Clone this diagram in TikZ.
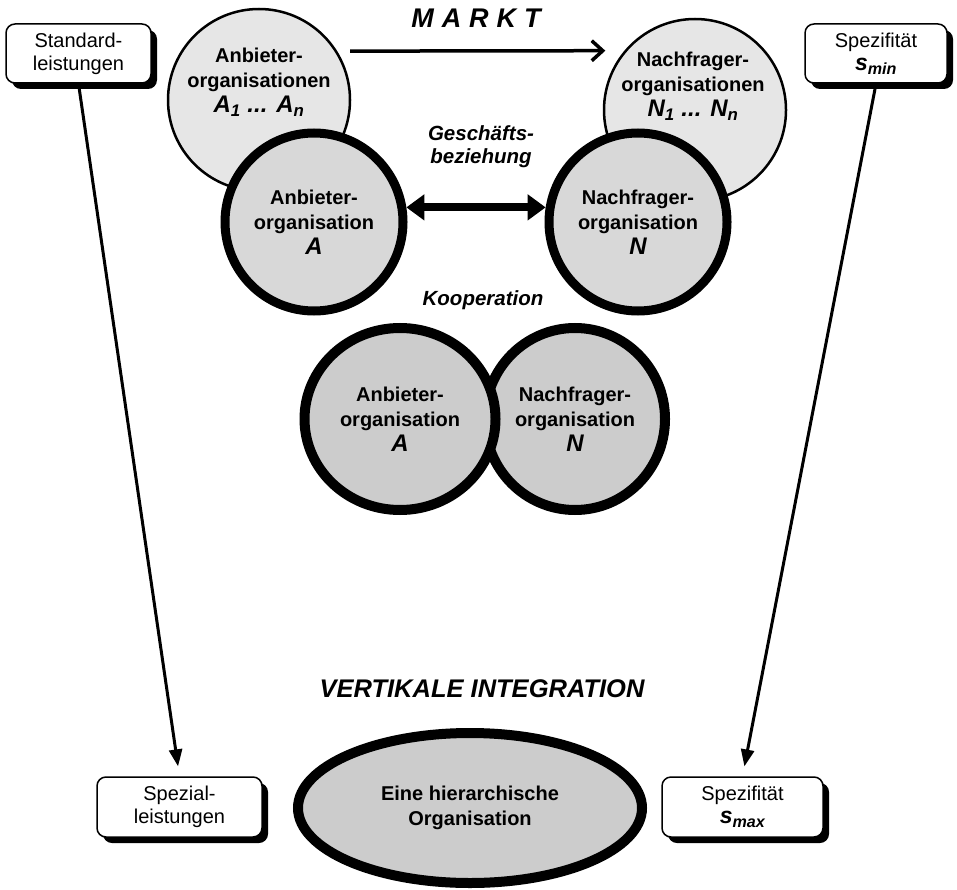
\documentclass[tikz,border=0pt]{standalone}
\usepackage{fontspec}
\setmainfont{Liberation Sans}
\usetikzlibrary{arrows.meta,shapes.geometric,shadows}
\begin{document}
\begin{tikzpicture}[x=1pt,y=-1pt,
  infobox/.style={draw, line width=1.5pt, rounded corners=9pt, fill=white, align=center, inner sep=0pt,
    font=\fontsize{20}{23}\selectfont,
    drop shadow={shadow xshift=6pt, shadow yshift=-6pt, fill=black, opacity=1}},
  orgthin/.style={circle, draw, line width=2.5pt, fill=custcol_e6, inner sep=0pt},
  orgthick/.style={circle, draw, line width=9pt, fill=custcol_d8, inner sep=0pt, align=center,
    font=\bfseries\fontsize{20}{25}\selectfont},
  orglbl/.style={align=center, inner sep=0pt, font=\bfseries\fontsize{20}{25}\selectfont},
  ttl/.style={align=center, inner sep=0pt, font=\bfseries\itshape\fontsize{20.5}{23}\selectfont},
  longarrow/.style={line width=3pt, -{Triangle[length=17pt,width=13pt]}, shorten >=10pt},
  mktarrow/.style={line width=3.5pt, -{Straight Barb[length=11pt,width=20pt]}},
  dblarrow/.style={line width=8pt, {Triangle[length=18pt,width=25pt]}-{Triangle[length=18pt,width=25pt]}}]
\useasboundingbox (0,0) rectangle (957,890);
\definecolor{custcol_e6}{RGB}{230, 230, 230}
\definecolor{custcol_d8}{RGB}{216, 216, 216}
\definecolor{custcol_cc}{RGB}{204, 204, 204}
\def\bigsym#1{{\itshape\fontsize{24}{25}\selectfont #1}}
\def\spec#1{{\bfseries\itshape\fontsize{23}{23}\selectfont s\textsubscript{#1}}}
% boxes at the corners
\node[infobox, minimum width=145pt, minimum height=59pt] (std) at (78.5,53.5) {Standard-\\leistungen};
\node[infobox, minimum width=142pt, minimum height=59pt] (smin) at (876,53.5) {Spezifität\\\spec{min}};
\node[infobox, minimum width=165pt, minimum height=60pt] (spez) at (179.5,807) {Spezial-\\leistungen};
\node[infobox, minimum width=161pt, minimum height=60pt] (smax) at (742.5,807) {Spezifität\\\spec{max}};
% market
\node[ttl, font=\bfseries\itshape\fontsize{27}{28}\selectfont] (markt) at (476,18) {M\hspace{8pt}A\hspace{8pt}R\hspace{8pt}K\hspace{8pt}T};
\node[orgthin, minimum size=182pt] (tA) at (259,100) {};
\node[orgthin, minimum size=182pt] (tN) at (695,110) {};
\node[orglbl] (tAtxt) at (259,82) {Anbieter-\\organisationen\\\bigsym{A\textsubscript{1} ... A\textsubscript{n}}};
\node[orglbl] (tNtxt) at (693,86) {Nachfrager-\\organisationen\\\bigsym{N\textsubscript{1} ... N\textsubscript{n}}};
\draw[mktarrow] ([xshift=13pt]tA.32) -- ([xshift=-19pt]tN.140);
% business relation
\node[orgthick, minimum size=178pt] (mA) at (314,222) {Anbieter-\\organisation\\\bigsym{A}};
\node[orgthick, minimum size=178pt] (mN) at (638,222) {Nachfrager-\\organisation\\\bigsym{N}};
\node[ttl] (gb) at (481,147) {Geschäfts-\\beziehung};
\draw[dblarrow] (mA.9) -- (mN.171);
% cooperation
\node[ttl] (koop) at (483,300) {Kooperation};
\node[orgthick, ellipse, line width=10pt, fill=custcol_cc, minimum width=180pt, minimum height=182pt] (kN) at (575,419) {Nachfrager-\\organisation\\\bigsym{N}};
\node[orgthick, ellipse, line width=10pt, fill=custcol_cc, minimum width=191pt, minimum height=182pt] (kA) at (400,419) {Anbieter-\\organisation\\\bigsym{A}};
% hierarchy
\node[ttl, font=\bfseries\itshape\fontsize{25.5}{27}\selectfont] (vi) at (482,689) {VERTIKALE INTEGRATION};
\node[orgthick, ellipse, line width=10pt, fill=custcol_cc, minimum width=344pt, minimum height=150pt] (hier) at (470,808) {Eine hierarchische\\Organisation};
\draw[longarrow] (std.south) -- (spez.north);
\draw[longarrow] (smin.south) -- (smax.north);
\end{tikzpicture}
\end{document}
